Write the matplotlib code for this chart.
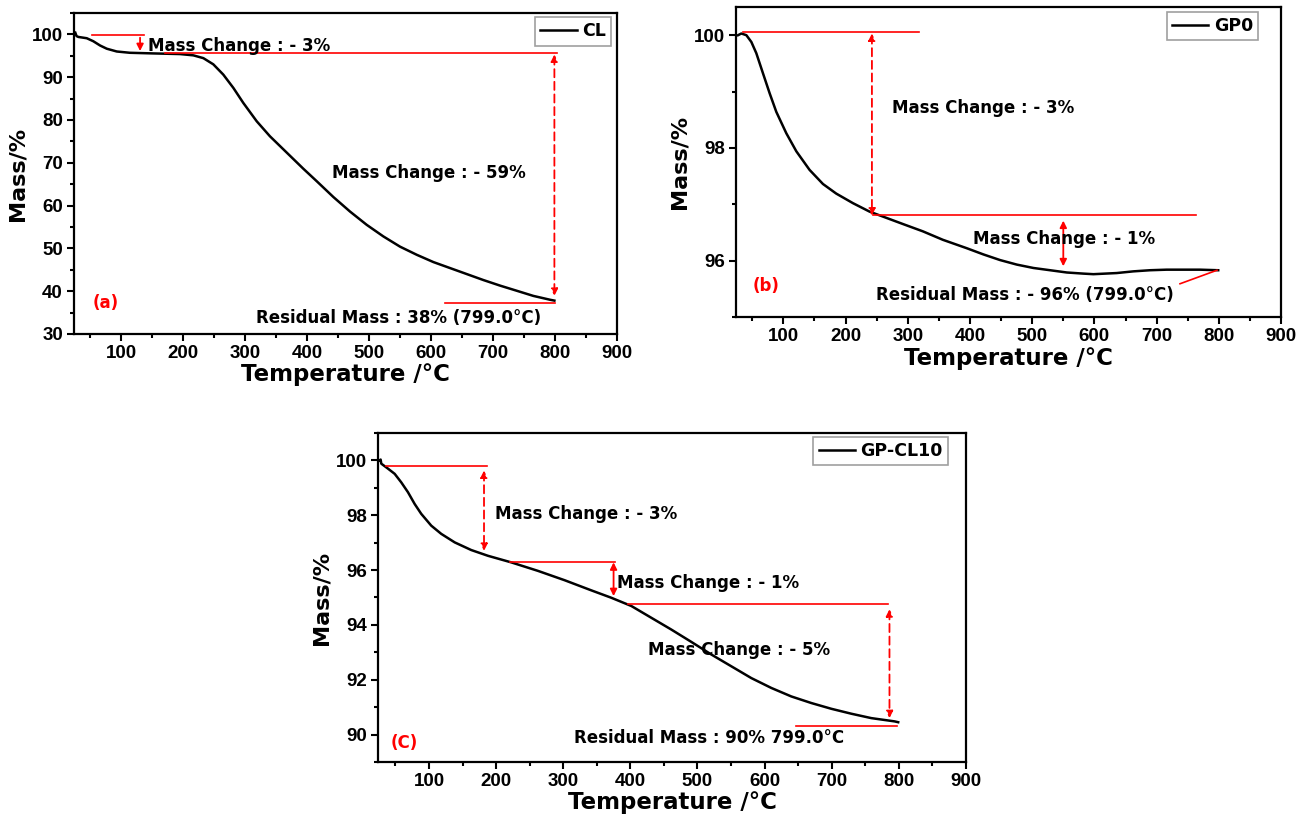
import matplotlib
matplotlib.use("Agg")
import matplotlib.pyplot as plt
from matplotlib.ticker import MultipleLocator

plt.rcParams['font.family'] = ['Liberation Sans', 'DejaVu Sans']
plt.rcParams['font.weight'] = 'bold'
TXT = ['DejaVu Sans', 'Liberation Sans']

# ---------------- data ----------------
cl_temp = [26, 28, 31, 44.5, 55, 66, 76.8, 92.9, 114, 152, 195, 216.5, 232.6, 248.7, 264.8,
           281, 297, 318.7, 340, 367, 394, 415.5, 442.4, 469.3, 496.2, 523, 550, 577,
           603.8, 630.7, 657.6, 684.5, 711.4, 738.3, 765, 792, 799]
cl_mass = [100.4, 99.6, 99.4, 99.1, 98.4, 97.4, 96.65, 96.0, 95.7, 95.55, 95.4, 95.1, 94.45,
           93.0, 90.6, 87.5, 84.0, 79.7, 76.2, 72.4, 68.6, 65.7, 62.0, 58.6, 55.5, 52.8,
           50.4, 48.5, 46.8, 45.4, 44.0, 42.6, 41.3, 40.1, 38.9, 38.0, 37.8]

gp0_temp = [27.2, 32.5, 40.6, 48.6, 56.6, 67.4, 78, 88.7, 104.8, 120.9, 142.2, 163.7, 185,
            211.9, 238.6, 265.4, 292.2, 324.3, 356.4, 395, 421.7, 448.5, 475.3, 502, 528.8,
            555.6, 582.3, 598.4, 635.9, 662.6, 689.4, 716.2, 742.9, 769.7, 799]
gp0_mass = [100.0, 100.03, 100.0, 99.88, 99.68, 99.32, 98.97, 98.64, 98.26, 97.94, 97.61,
            97.36, 97.19, 97.02, 96.87, 96.76, 96.65, 96.52, 96.37, 96.22, 96.11, 96.01,
            95.93, 95.87, 95.83, 95.79, 95.77, 95.76, 95.78, 95.81, 95.83, 95.84, 95.84,
            95.84, 95.83]

gpcl_temp = [26.5, 28, 29, 38.9, 48.9, 58.7, 68.7, 78.7, 88.5, 103.4, 118.3, 138.3, 163,
             187.9, 222.6, 262.4, 302, 341.8, 371.6, 401.4, 431.2, 461, 490.8, 520.6, 550.4,
             580.2, 610, 639.8, 669.6, 699.4, 729.2, 758.9, 793.8, 799]
gpcl_mass = [100.0, 100.03, 99.88, 99.7, 99.51, 99.2, 98.84, 98.41, 98.05, 97.62, 97.32,
             97.01, 96.73, 96.52, 96.28, 95.97, 95.63, 95.26, 94.99, 94.69, 94.26, 93.83,
             93.38, 92.92, 92.49, 92.06, 91.7, 91.39, 91.15, 90.94, 90.76, 90.6, 90.48, 90.45]

series_labels = ["CL", "GP0", "GP-CL10"]
panel_tags = ["(a)", "(b)", "(C)"]
x_ticks = [100, 200, 300, 400, 500, 600, 700, 800, 900]

# annotation geometry (data units): horizontal guide lines (x0, x1, y)
a_hlines = [(52.5, 137, 99.77), (170, 803, 95.55), (623, 800, 37.2)]
a_arrows = [(130.5, 99.22, 96.1, '-|>', '-'), (799, 95.3, 38.9, '<|-|>', '--')]
a_texts = [(144, 97.4, "Mass Change : - 3%"), (440, 67.7, "Mass Change : - 59%"),
           (318, 33.7, "Residual Mass : 38% (799.0°C)")]

b_hlines = [(35, 318, 100.05), (244, 763, 96.81)]
b_arrows = [(242.4, 100.03, 96.8, '<|-|>', '--'), (550, 96.71, 95.9, '<|-|>', '-')]
b_diag = [(737.6, 797), (95.59, 95.83)]
b_texts = [(275, 98.71, "Mass Change : - 3%"), (404.6, 96.38, "Mass Change : - 1%"),
           (249, 95.39, "Residual Mass : - 96% (799.0°C)")]

c_hlines = [(36.4, 187, 99.79), (220, 377, 96.3), (396.5, 784, 94.75), (647, 797, 90.33)]
c_arrows = [(182, 99.63, 96.7, '<|-|>', '--'), (375, 96.28, 95.05, '<|-|>', '-'),
            (786, 94.57, 90.6, '<|-|>', '--')]
c_texts = [(197.8, 98.05, "Mass Change : - 3%"), (380.5, 95.54, "Mass Change : - 1%"),
           (427, 93.1, "Mass Change : - 5%"), (316, 89.88, "Residual Mass : 90% 799.0°C")]

# ---------------- figure ----------------
fig = plt.figure(figsize=(12.97, 8.16), dpi=100)
ax_a = fig.add_axes([0.0571, 0.5907, 0.4186, 0.3934])
ax_b = fig.add_axes([0.5675, 0.6115, 0.4202, 0.3799])
ax_c = fig.add_axes([0.2914, 0.0662, 0.4534, 0.4032])

def style(ax, ylim, ymaj, ymin, tag, tagpos):
    ax.set_xlim(24, 900)
    ax.set_ylim(*ylim)
    ax.set_xticks(x_ticks)
    ax.xaxis.set_minor_locator(MultipleLocator(50))
    ax.yaxis.set_major_locator(MultipleLocator(ymaj))
    ax.yaxis.set_minor_locator(MultipleLocator(ymin))
    ax.tick_params(which='both', direction='out', top=False, right=False,
                   width=1.5, labelsize=13.5, pad=3)
    ax.tick_params(which='major', length=5)
    ax.tick_params(which='minor', length=3)
    for lab in ax.get_xticklabels() + ax.get_yticklabels():
        lab.set_fontweight('bold')
    for s in ax.spines.values():
        s.set_linewidth(1.6)
    ax.set_xlabel("Temperature /°C", fontsize=16.5, fontweight='bold', labelpad=1,
                  family=TXT)
    ax.set_ylabel("Mass/%", fontsize=16, fontweight='bold', labelpad=3, family=TXT)
    ax.text(tagpos[0], tagpos[1], tag, color='red', fontsize=12, fontweight='bold',
            va='center', ha='left', family=TXT)

def annotate(ax, hlines, arrows, texts):
    for x0, x1, y in hlines:
        ax.plot([x0, x1], [y, y], color='red', lw=1.2)
    for x, y0, y1, style_, ls in arrows:
        ls_ = (0, (4.5, 2.5)) if ls == '--' else '-'
        ax.annotate("", xy=(x, y1), xytext=(x, y0),
                    arrowprops=dict(arrowstyle=style_, color='red', lw=1.3,
                                    linestyle=ls_, mutation_scale=10,
                                    shrinkA=0, shrinkB=0))
    for x, y, t in texts:
        ax.text(x, y, t, fontsize=12, fontweight='bold', va='center', ha='left',
                family=TXT)

def legend(ax, label, anchor):
    leg = ax.legend([label], loc='upper right', bbox_to_anchor=anchor,
                    prop={'family': TXT, 'weight': 'bold', 'size': 12.5},
                    frameon=True, fancybox=False, edgecolor='#888888',
                    handlelength=2.1, borderpad=0.3, handletextpad=0.3,
                    borderaxespad=0.0)
    leg.get_frame().set_linewidth(1.2)

ax_a.plot(cl_temp, cl_mass, color='black', lw=1.8, solid_joinstyle='round')
style(ax_a, (30, 105), 10, 5, panel_tags[0], (54, 37.3))
annotate(ax_a, a_hlines, a_arrows, a_texts)
legend(ax_a, series_labels[0], (0.989, 0.987))

ax_b.plot(gp0_temp, gp0_mass, color='black', lw=1.8, solid_joinstyle='round')
style(ax_b, (95, 100.5), 2, 1, panel_tags[1], (50, 95.55))
annotate(ax_b, b_hlines, b_arrows, b_texts)
ax_b.plot(b_diag[0], b_diag[1], color='red', lw=1.2)
legend(ax_b, series_labels[1], (0.958, 0.984))

ax_c.plot(gpcl_temp, gpcl_mass, color='black', lw=1.8, solid_joinstyle='round')
style(ax_c, (89, 101), 2, 1, panel_tags[2], (43, 89.7))
annotate(ax_c, c_hlines, c_arrows, c_texts)
legend(ax_c, series_labels[2], (0.969, 0.988))

fig.savefig("out.png", dpi=100)
